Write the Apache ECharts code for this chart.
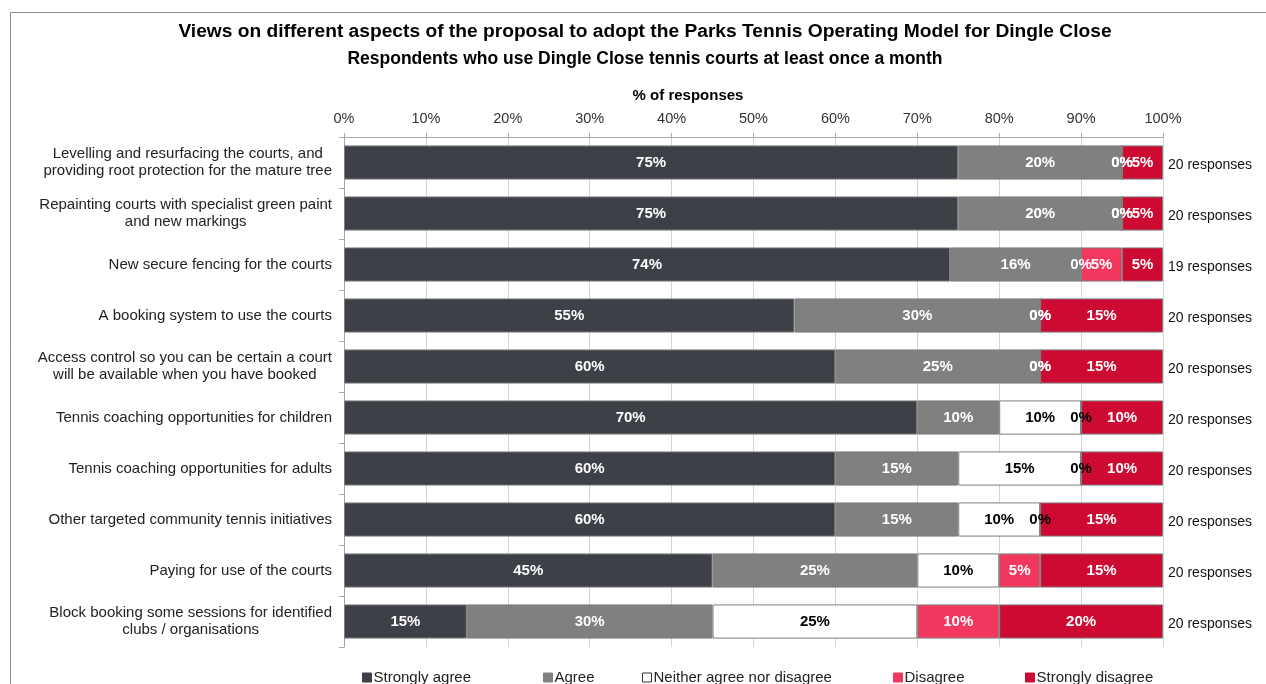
<!DOCTYPE html>
<html>
<head>
<meta charset="utf-8">
<title>Parks Tennis Operating Model – Dingle Close</title>
<script src="https://cdn.jsdelivr.net/npm/echarts@6/dist/echarts.min.js"></script>
<style>
  html, body { margin: 0; padding: 0; background: #fff; }
  #chart { width: 1266px; height: 684px; }
</style>
</head>
<body>
<div id="chart"></div>
<script>
// Survey statements, top to bottom
const categories = [
  'Levelling and resurfacing the courts, and\nproviding root protection for the mature tree',
  'Repainting courts with specialist green paint\nand new markings',
  'New secure fencing for the courts',
  'A booking system to use the courts',
  'Access control so you can be certain a court\nwill be available when you have booked',
  'Tennis coaching opportunities for children',
  'Tennis coaching opportunities for adults',
  'Other targeted community tennis initiatives',
  'Paying for use of the courts',
  'Block booking some sessions for identified\nclubs / organisations'
];

// Number of respondents per statement
const responseCounts = [20, 20, 19, 20, 20, 20, 20, 20, 20, 20];

// % of responses per answer
const stronglyAgree    = [75, 75, 74, 55, 60, 70, 60, 60, 45, 15];
const agree            = [20, 20, 16, 30, 25, 10, 15, 15, 25, 30];
const neither          = [ 0,  0,  0,  0,  0, 10, 15, 10, 10, 25];
const disagree         = [ 0,  0,  5,  0,  0,  0,  0,  0,  5, 10];
const stronglyDisagree = [ 5,  5,  5, 15, 15, 10, 10, 15, 15, 20];

const xTicks = { min: 0, max: 100, interval: 10 };

const FONT = '"Liberation Sans", Arial, Helvetica, sans-serif';

const seriesDefs = [
  { name: 'Strongly agree', values: stronglyAgree, color: '#3d4047', text: '#ffffff' },
  { name: 'Agree', values: agree, color: '#808080', text: '#ffffff' },
  { name: 'Neither agree nor disagree', values: neither, color: '#ffffff', text: '#000000' },
  { name: 'Disagree', values: disagree, color: '#f2385e', text: '#ffffff' },
  { name: 'Strongly disagree', values: stronglyDisagree, color: '#cc0a32', text: '#ffffff' }
];

// A zero-width segment's label sits on the boundary; make it readable
// against the segment that ends there.
function zeroLabelColor(seriesIdx, row) {
  for (let s = seriesIdx - 1; s >= 0; s--) {
    if (seriesDefs[s].values[row] > 0) return seriesDefs[s].text;
  }
  return '#000000';
}

const series = seriesDefs.map((d, si) => ({
  name: d.name,
  type: 'bar',
  stack: 'total',
  barCategoryGap: '33%',
  itemStyle: { color: d.color, borderColor: '#7f7f7f', borderWidth: 1 },
  label: {
    show: true,
    position: 'inside',
    fontFamily: FONT,
    fontSize: 15,
    fontWeight: 'bold',
    color: d.text,
    formatter: p => Math.round(p.value) + '%'
  },
  data: d.values.map((v, row) => v === 0
    ? { value: v, label: { color: zeroLabelColor(si, row) } }
    : v)
}));

const legendX = [357, 538, 637, 888, 1020];
const legends = seriesDefs.map((d, i) => ({
  data: [{ name: d.name, itemStyle: { borderColor: d.color === '#ffffff' ? '#333' : d.color, borderWidth: 1 } }],
  left: legendX[i],
  top: 665,
  icon: 'rect',
  itemWidth: 9,
  itemHeight: 9,
  selectedMode: false,
  textStyle: { fontFamily: FONT, fontSize: 15, color: '#222', padding: [0, 0, 0, -3] }
}));

const chart = echarts.init(document.getElementById('chart'), null, { renderer: 'canvas' });

chart.setOption({
  backgroundColor: '#ffffff',
  animation: false,
  textStyle: { fontFamily: FONT },
  graphic: [
    {
      type: 'polyline',
      shape: { points: [[10.5, 700], [10.5, 12.5], [1300, 12.5]] },
      style: { stroke: '#8c8c8c', lineWidth: 1, fill: null }
    }
  ],
  title: [
    {
      text: 'Views on different aspects of the proposal to adopt the Parks Tennis Operating Model for Dingle Close',
      left: 640, top: 17, textAlign: 'center',
      textStyle: { fontFamily: FONT, fontSize: 19.2, fontWeight: 'bold', color: '#000' }
    },
    {
      text: 'Respondents who use Dingle Close tennis courts at least once a month',
      left: 640, top: 45, textAlign: 'center',
      textStyle: { fontFamily: FONT, fontSize: 17.5, fontWeight: 'bold', color: '#000' }
    },
    {
      text: '% of responses',
      left: 683, top: 83, textAlign: 'center',
      textStyle: { fontFamily: FONT, fontSize: 15, fontWeight: 'bold', color: '#000' }
    }
  ],
  legend: legends,
  grid: { left: 344, right: 103, top: 137, bottom: 37, containLabel: false },
  xAxis: {
    type: 'value',
    position: 'top',
    min: xTicks.min,
    max: xTicks.max,
    interval: xTicks.interval,
    axisLine: { show: true, lineStyle: { color: '#a6a6a6' } },
    axisTick: { show: true, length: 4, lineStyle: { color: '#a6a6a6' } },
    axisLabel: { formatter: '{value}%', fontFamily: FONT, fontSize: 14.5, color: '#333', margin: 11 },
    splitLine: { show: true, lineStyle: { color: '#d4d4d4' } }
  },
  yAxis: [
    {
      type: 'category',
      data: categories,
      inverse: true,
      axisLine: { show: true, lineStyle: { color: '#a6a6a6' } },
      axisTick: { show: true, length: 5, lineStyle: { color: '#a6a6a6' } },
      axisLabel: {
        margin: 12,
        fontFamily: FONT,
        fontSize: 15,
        color: '#222',
        lineHeight: 17,
        formatter: v => v.split('\n').map(l => '{c|' + l + '}').join('\n'),
        rich: { c: { align: 'center', fontFamily: FONT, fontSize: 15, color: '#222', lineHeight: 17 } }
      }
    },
    {
      type: 'category',
      data: responseCounts.map(n => n + ' responses'),
      inverse: true,
      position: 'right',
      axisLine: { show: false },
      axisTick: { show: false },
      axisLabel: {
        margin: 5,
        fontFamily: FONT,
        fontSize: 14,
        color: '#111',
        formatter: v => '{r|' + v + '}',
        rich: { r: { fontFamily: FONT, fontSize: 14, color: '#111', padding: [5, 0, 0, 0] } }
      }
    }
  ],
  series: series
});
</script>
</body>
</html>
